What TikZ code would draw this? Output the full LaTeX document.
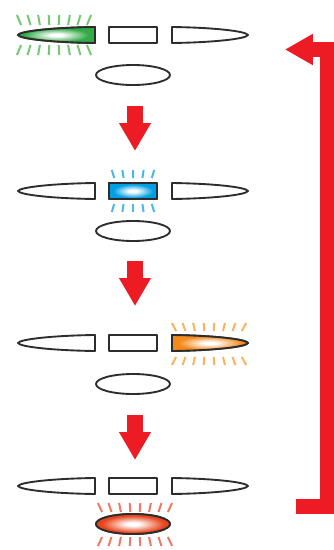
\documentclass[tikz,border=0pt]{standalone}
\usetikzlibrary{arrows.meta}
\definecolor{partline}{RGB}{45,45,45}
\definecolor{flowred}{RGB}{237,28,36}
\definecolor{greenfill}{RGB}{50,170,70}
\definecolor{greenglow}{RGB}{115,200,115}
\definecolor{bluefill}{RGB}{0,158,227}
\definecolor{blueglow}{RGB}{70,185,235}
\definecolor{orangefill}{RGB}{242,138,28}
\definecolor{orangeglow}{RGB}{250,178,95}
\definecolor{redfill}{RGB}{232,70,30}
\definecolor{redglow}{RGB}{242,120,100}

\pgfdeclareradialshading{litgreen}{\pgfpoint{0bp}{0bp}}{color(0bp)=(white); color(4bp)=(white); color(21bp)=(greenfill); color(50bp)=(greenfill)}
\pgfdeclareradialshading{litblue}{\pgfpoint{0bp}{0bp}}{color(0bp)=(white); color(4bp)=(white); color(21bp)=(bluefill); color(50bp)=(bluefill)}
\pgfdeclareradialshading{litorange}{\pgfpoint{0bp}{0bp}}{color(0bp)=(white); color(4bp)=(white); color(21bp)=(orangefill); color(50bp)=(orangefill)}
\pgfdeclareradialshading{litred}{\pgfpoint{0bp}{0bp}}{color(0bp)=(white); color(4bp)=(white); color(21bp)=(redfill); color(50bp)=(redfill)}

\begin{document}
\begin{tikzpicture}[
    x=0.03cm, y=-0.03cm,
    part/.style = {draw=partline, line width=1.6pt, line join=round},
    glow/.style = {line width=1.7pt},
    flow/.style = {draw=flowred, line width=13.6pt, -{Triangle[width=25.5pt,length=23.8pt]}},
    ret/.style = {draw=flowred, line width=12.8pt, line join=miter, -{Triangle[width=25pt,length=23.8pt]}}
]
\useasboundingbox (0,0) rectangle (334,550);

% glow marks
\foreach \x in {19,29,...,89}{
    \draw[glow, draw=greenglow] ({\x+0.06*(\x-54)},15) -- ({\x-0.06*(\x-54)},25);
    \draw[glow, draw=greenglow] ({\x-0.06*(\x-54)},45) -- ({\x+0.06*(\x-54)},55);
}
\foreach \x in {113,123,...,153}{
    \draw[glow, draw=blueglow] ({\x+0.06*(\x-133)},170) -- ({\x-0.06*(\x-133)},178);
    \draw[glow, draw=blueglow] ({\x-0.06*(\x-133)},204) -- ({\x+0.06*(\x-133)},212);
}
\foreach \x in {174,184,...,244}{
    \draw[glow, draw=orangeglow] ({\x+0.06*(\x-209)},323) -- ({\x-0.06*(\x-209)},331);
    \draw[glow, draw=orangeglow] ({\x-0.06*(\x-209)},357) -- ({\x+0.06*(\x-209)},365);
}
\foreach \x in {100,110,...,170}{
    \draw[glow, draw=redglow] ({\x+0.06*(\x-135)},503) -- ({\x-0.06*(\x-135)},512);
    \draw[glow, draw=redglow] ({\x-0.06*(\x-135)},537) -- ({\x+0.06*(\x-135)},546);
}

% parts of every stage
\foreach \y/\h in {35/75, 191/231, 343/384, 486/524}{
    \draw[part] (95,\y-8) .. controls (55,\y-7.5) and (20,\y-4) .. (18,\y)
        .. controls (20,\y+4) and (55,\y+7.5) .. (95,\y+8) -- cycle;
    \draw[part] (109,\y-8) rectangle (157,\y+8);
    \draw[part] (172,\y-8) .. controls (212,\y-7.5) and (246,\y-4) .. (248,\y)
        .. controls (246,\y+4) and (212,\y+7.5) .. (172,\y+8) -- cycle;
    \draw[part] (133,\h) ellipse [x radius=37, y radius=10];
}

% lit parts
\shade[part, shading=litgreen] (95,27) .. controls (55,27.5) and (20,31) .. (18,35)
    .. controls (20,39) and (55,42.5) .. (95,43) -- cycle;
\shade[part, shading=litblue] (109,183) rectangle (157,199);
\shade[part, shading=litorange] (172,335) .. controls (212,335.5) and (246,339) .. (248,343)
    .. controls (246,347) and (212,350.5) .. (172,351) -- cycle;
\shade[part, shading=litred] (133,524) ellipse [x radius=37, y radius=10];

% step arrows
\coordinate (s1) at (135,106);
\coordinate (e1) at (135,151);
\coordinate (s2) at (135,261);
\coordinate (e2) at (135,306);
\coordinate (s3) at (135,415);
\coordinate (e3) at (135,460);
\draw[flow] (s1) -- (e1);
\draw[flow] (s2) -- (e2);
\draw[flow] (s3) -- (e3);

% back to start
\coordinate (back) at (296,506.5);
\coordinate (turn) at (327,49.5);
\coordinate (home) at (285,49.5);
\draw[ret] (back) -| (turn) -- (home);
\end{tikzpicture}
\end{document}
